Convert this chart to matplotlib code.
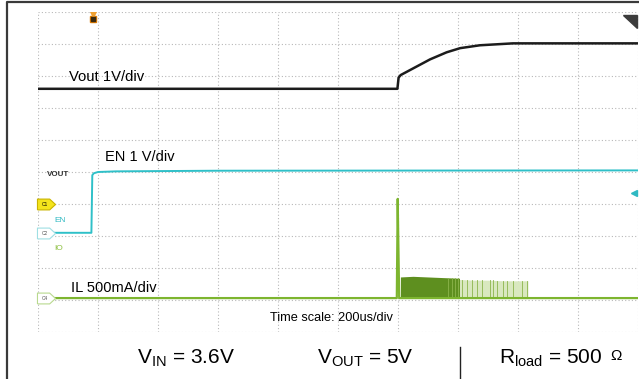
import numpy as np
import matplotlib
matplotlib.use('Agg')
import matplotlib.pyplot as plt

plt.rcParams['font.family'] = ['Liberation Sans', 'DejaVu Sans']
plt.rcParams['mathtext.fontset'] = 'custom'
plt.rcParams['mathtext.rm'] = 'Liberation Sans'

# time in us (200us/div, 10 div), values in channel units
vout_t = [0, 1198, 1202, 1209, 1251, 1307, 1362, 1407, 1473, 1583, 2000]
vout_v = [3.6, 3.6, 3.95, 4.03, 4.24, 4.52, 4.74, 4.87, 4.96, 5.02, 5.02]

en_t = [0, 178, 181, 186, 200, 260, 600, 2000]
en_v = [0.02, 0.02, 1.82, 1.88, 1.92, 1.94, 1.96, 1.97]

il_t = [0, 1196, 1199, 1201, 1204, 1207, 2000]
il_a = [0.0, 0.0, 1.55, 0.9, 0.0, 0.0, 0.0]

burst_dark_t = [1208, 1250, 1300, 1350, 1405]
burst_dark_a = [0.33, 0.34, 0.33, 0.32, 0.31]
burst_light_t = [1405, 1450, 1500, 1550, 1600, 1633]
burst_light_a = [0.29, 0.28, 0.28, 0.27, 0.27, 0.27]
spike_t = [1367, 1380, 1390, 1400, 1413, 1430, 1447, 1463, 1480, 1507,
           1517, 1530, 1550, 1563, 1583, 1613, 1630]

# channel ground offsets (div) and scales (unit/div)
vout_off, vout_scale = 4.0, 1.0
en_off, en_scale = 3.08, 1.0
il_off, il_scale = 1.06, 0.5

W, H = 639, 379
fig = plt.figure(figsize=(W / 100, H / 100), dpi=100)
fig.patch.set_facecolor('white')

# outer frame
frame = fig.add_axes([0, 0, 1, 1])
frame.set_xlim(0, W)
frame.set_ylim(H, 0)
frame.axis('off')
frame.plot([7, 7, W], [H, 1.5, 1.5], color='#3a3a3a', lw=1.6)
frame.plot([460, 460], [347, H], color='#222222', lw=1.0)

ax = fig.add_axes([38 / W, (H - 332) / H, 600 / W, 320 / H])
ax.set_xlim(0, 2000)
ax.set_ylim(0, 10)
ax.axis('off')
for i in range(11):
    ax.axhline(i, color='#b8b8b8', lw=0.8, ls=(0, (1, 2)), zorder=0)
    ax.axvline(i * 200, color='#b8b8b8', lw=0.8, ls=(0, (1, 2)), zorder=0)

# IL burst
dt = np.array(burst_dark_t)
ax.fill_between(dt, il_off, il_off + np.array(burst_dark_a) / il_scale,
                color='#5e8f1f', lw=0, zorder=2)
lt = np.array(burst_light_t)
ax.fill_between(lt, il_off, il_off + np.array(burst_light_a) / il_scale,
                color='#d9e8bf', lw=0, zorder=2)
for s in spike_t:
    top = np.interp(s, burst_dark_t + burst_light_t, burst_dark_a + burst_light_a)
    ax.plot([s, s], [il_off, il_off + top / il_scale], color='#8cb54c',
            lw=0.6, zorder=2)

ax.plot(il_t, il_off + np.array(il_a) / il_scale, color='#7db52f', lw=1.6, zorder=3)
ax.plot(en_t, en_off + np.array(en_v) / en_scale, color='#2fc0c8', lw=1.4, zorder=3)
ax.plot(vout_t, vout_off + np.array(vout_v) / vout_scale, color='#1c1c1c', lw=1.8, zorder=4)

# channel markers
arrow = [(-1, -0.6), (0.35, -0.6), (1, 0), (0.35, 0.6), (-1, 0.6), (-1, -0.6)]
ax.plot([27], [vout_off], marker=arrow, ms=13, mfc='#f4e41c', mec='#c9b300',
        mew=0.8, clip_on=False, zorder=6)
ax.plot([27], [en_off], marker=arrow, ms=13, mfc='white', mec='#9fdfe3',
        mew=0.8, clip_on=False, zorder=6)
ax.plot([27], [il_off], marker=arrow, ms=13, mfc='white', mec='#b8d98e',
        mew=0.8, clip_on=False, zorder=6)
ax.text(22, vout_off, 'C1', fontsize=3.5, ha='center', va='center', zorder=7)
ax.text(22, en_off, 'C2', fontsize=3.5, ha='center', va='center', color='#555', zorder=7)
ax.text(22, il_off, 'C4', fontsize=3.5, ha='center', va='center', color='#555', zorder=7)

# trigger marker and right-side markers
ax.plot([183], [9.78], marker='s', ms=5, mfc='#e07b00', mec='#e07b00', zorder=6)
ax.plot([183], [9.78], marker='s', ms=2.5, mfc='#3a2a10', mec='#3a2a10', zorder=7)
ax.plot([183], [9.95], marker='v', ms=4, mfc='#f0a030', mec='#f0a030', zorder=6)
ax.plot([1985], [4.33], marker='<', ms=5, mfc='#2fb9c2', mec='#2fb9c2',
        clip_on=False, zorder=6)
frame.fill([623, 637, 637], [15, 15, 28], color='#3c3c3c', zorder=5)

# labels
fig.text(69 / W, 1 - 77 / H, 'Vout 1V/div', fontsize=10.7, va='center')
fig.text(105 / W, 1 - 157 / H, 'EN 1 V/div', fontsize=10.5, va='center')
fig.text(71 / W, 1 - 288 / H, 'IL 500mA/div', fontsize=10.5, va='center')
fig.text(270 / W, 1 - 318 / H, 'Time scale: 200us/div', fontsize=9.2, va='center')
fig.text(47 / W, 1 - 175 / H, 'VOUT', fontsize=5.8, va='center', weight='bold', color='#333')
fig.text(54 / W, 1 - 220 / H, 'EN', fontsize=6, va='center', color='#2fb9c2')
fig.text(54 / W, 1 - 248 / H, 'IO', fontsize=6, va='center', color='#8cbf3f')

fig.text(137 / W, 1 - 358 / H, r'V$_{\rm IN}$ = 3.6V', fontsize=15, va='center')
fig.text(317 / W, 1 - 358 / H, r'V$_{\rm OUT}$ = 5V', fontsize=15, va='center')
fig.text(499 / W, 1 - 358 / H, r'R$_{\rm load}$ = 500', fontsize=15, va='center')
fig.text(610 / W, 1 - 356 / H, '\u03a9', fontsize=11, va='center')

fig.savefig('out.png', dpi=100, facecolor='white')
